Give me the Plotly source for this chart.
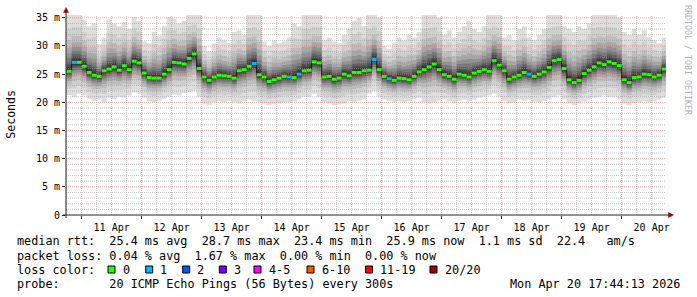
import datetime as dt
import plotly.graph_objects as go

# ---------------- data ----------------
range_start = dt.datetime(2026, 4, 10, 17, 44, 13)
range_end = dt.datetime(2026, 4, 20, 17, 44, 13)
step_start = dt.datetime(2026, 4, 10, 18, 0, 0)
step_hours = 2

median_ms = [
    25.5, 27.1, 27.1, 26.4, 25.3, 24.8, 24.6, 25.6, 25.9, 26.3, 25.7, 26.5, 25.8, 27.3, 27.0,
    25.2, 24.4, 24.3, 24.3, 25.0, 25.8, 27.1, 27.0, 26.8, 27.8, 28.6, 26.0, 24.5, 23.9, 24.5,
    24.8, 24.7, 24.6, 24.3, 25.6, 25.8, 26.4, 26.9, 24.9, 24.5, 23.7, 24.0, 24.3, 24.6, 24.5,
    24.4, 25.0, 25.6, 25.7, 27.2, 27.0, 24.5, 24.6, 24.1, 24.3, 25.0, 24.7, 25.3, 25.3, 25.6,
    25.7, 27.6, 25.8, 24.6, 24.2, 23.9, 24.3, 24.2, 24.0, 24.6, 25.4, 25.8, 26.3, 26.8, 25.8,
    24.9, 24.6, 24.1, 25.0, 24.8, 24.5, 25.2, 25.5, 25.8, 25.5, 27.4, 26.6, 25.6, 24.1, 24.5,
    24.8, 25.3, 25.0, 24.6, 25.0, 25.4, 26.2, 27.4, 27.6, 26.0, 24.0, 23.5, 23.9, 25.1, 25.7,
    26.3, 27.0, 26.7, 27.2, 26.9, 26.5, 24.0, 23.5, 24.4, 24.5, 25.0, 24.9, 24.5, 24.8, 25.9,
]
top_ms = [
    35.6, 35.6, 35.6, 34.7, 33.5, 34.0, 30.3, 31.5, 34.7, 34.0, 33.5, 34.2, 33.0, 35.2, 34.5,
    30.8, 30.5, 32.5, 31.8, 33.5, 35.2, 34.8, 34.0, 34.5, 35.6, 35.6, 35.6, 30.0, 29.0, 30.5,
    31.5, 31.0, 30.5, 32.5, 32.8, 32.0, 35.6, 35.6, 35.6, 30.8, 30.0, 31.0, 30.5, 30.8, 31.5,
    34.0, 33.5, 35.6, 35.6, 35.6, 35.6, 31.0, 31.5, 30.8, 30.5, 32.0, 33.0, 34.5, 35.0, 33.5,
    35.6, 35.6, 35.0, 30.0, 29.5, 30.5, 31.5, 31.0, 32.0, 31.5, 32.5, 35.6, 35.6, 35.6, 35.0,
    32.0, 32.8, 31.5, 32.5, 33.5, 34.5, 33.0, 32.5, 33.5, 35.6, 35.6, 35.6, 31.5, 32.0, 31.0,
    33.0, 33.5, 31.5, 31.0, 32.0, 33.0, 35.6, 35.6, 35.6, 33.5, 33.0, 32.5, 33.5, 33.0, 34.0,
    35.6, 35.6, 35.6, 35.6, 35.6, 35.0, 32.5, 32.0, 33.0, 32.0, 32.8, 31.5, 31.0, 30.5, 31.5,
]
bottom_ms = [
    21.3, 21.0, 21.5, 21.2, 20.6, 20.3, 20.5, 20.0, 20.8, 20.6, 21.0, 20.8, 21.2, 21.8, 21.5,
    20.8, 20.2, 20.0, 20.3, 20.6, 21.0, 21.4, 21.2, 21.6, 21.8, 22.0, 21.0, 19.8, 19.5, 20.0,
    20.2, 20.0, 20.3, 20.0, 19.8, 20.2, 20.5, 20.3, 20.0, 19.8, 19.5, 19.7, 19.8, 20.0, 20.0,
    20.2, 20.5, 21.0, 21.0, 21.5, 21.0, 20.0, 19.8, 19.5, 19.6, 19.8, 20.2, 20.0, 20.3, 20.5,
    21.5, 22.0, 21.0, 20.5, 20.3, 20.0, 20.2, 20.0, 20.2, 20.5, 20.8, 20.0, 19.8, 20.0, 20.3,
    20.5, 20.2, 19.8, 20.3, 20.5, 20.2, 20.5, 20.8, 21.0, 21.2, 21.5, 21.0, 20.3, 19.8, 20.0,
    20.5, 20.3, 20.5, 20.2, 20.0, 20.3, 20.5, 21.0, 21.2, 20.5, 19.8, 19.5, 19.8, 20.2, 20.5,
    20.8, 21.0, 21.2, 21.0, 21.0, 20.5, 19.8, 19.5, 19.8, 20.0, 20.2, 20.0, 20.2, 20.5, 20.8,
]
loss1_steps = [1, 37, 44, 46, 61, 64, 92]   # steps with 1/20 pings lost

y_tick_vals = [0, 5, 10, 15, 20, 25, 30, 35]
y_tick_text = ["0", "5 m", "10 m", "15 m", "20 m", "25 m", "30 m", "35 m"]
x_tick_days = [dt.datetime(2026, 4, d) for d in range(11, 21)]
x_tick_text = ["11 Apr", "12 Apr", "13 Apr", "14 Apr", "15 Apr",
               "16 Apr", "17 Apr", "18 Apr", "19 Apr", "20 Apr"]

loss_labels = ["0", "1", "2", "3", "4-5", "6-10", "11-19", "20/20"]
loss_colors = ["#26ff00", "#00b8ff", "#0059ff", "#7e00ff", "#ff00ff", "#ff5500", "#ff0000", "#a10000"]

legend_rtt = "median rtt:  25.4 ms avg  28.7 ms max  23.4 ms min  25.9 ms now  1.1 ms sd  22.4   am/s"
legend_loss = "packet loss: 0.04 % avg  1.67 % max  0.00 % min  0.00 % now"
legend_probe = "probe:       20 ICMP Echo Pings (56 Bytes) every 300s"
legend_date = "Mon Apr 20 17:44:13 2026"

Y_MAX = 35.5
MONO = "DejaVu Sans Mono"
LEG = 11.8

# ---------------- helpers ----------------
n = len(median_ms)
times = [step_start + dt.timedelta(hours=step_hours * i) for i in range(n + 1)]


def px_x(px):
    return (px - 66) / 600.0


def px_y(py):
    return (215 - py) / 200.0


fig = go.Figure()

# ---------------- smoke (gradient from outer light to inner dark) ----------------
shade_fracs = [1.0, 0.74, 0.55, 0.42, 0.32, 0.24, 0.17, 0.12, 0.075, 0.04]
shade_colors = ["#dedede", "#cfcfcf", "#bdbdbd", "#a8a8a8", "#919191",
                "#797979", "#626262", "#4d4d4d", "#3a3a3a", "#2a2a2a"]
for f, col in zip(shade_fracs, shade_colors):
    lo = [m - f * (m - b) for m, b in zip(median_ms, bottom_ms)]
    hi = [m + f * (t - m) for m, t in zip(median_ms, top_ms)]
    lo.append(lo[-1])
    hi.append(hi[-1])
    fig.add_trace(go.Scatter(x=times, y=lo, mode="lines", line=dict(width=0, shape="hv"),
                             hoverinfo="skip", showlegend=False))
    fig.add_trace(go.Scatter(x=times, y=hi, mode="lines", line=dict(width=0, shape="hv"),
                             fill="tonexty", fillcolor=col, hoverinfo="skip", showlegend=False))

# ---------------- grid (drawn above smoke like rrdtool) ----------------
def hlines(vals):
    xs, ys = [], []
    for v in vals:
        xs += [range_start, range_end, None]
        ys += [v, v, None]
    return xs, ys


def vlines(ts):
    xs, ys = [], []
    for t in ts:
        xs += [t, t, None]
        ys += [0, Y_MAX, None]
    return xs, ys


minor_h = [v for v in range(1, 36) if v % 5 != 0]
major_h = [v for v in range(5, 36, 5)]
six_hours = []
t = dt.datetime(2026, 4, 10, 18)
while t < range_end:
    six_hours.append(t)
    t += dt.timedelta(hours=6)
minor_v = [t for t in six_hours if t.hour != 0]
major_v = [t for t in six_hours if t.hour == 0]

for (xs, ys), colr in [(hlines(minor_h), "rgba(150,150,150,0.55)"),
                       (vlines(minor_v), "rgba(150,150,150,0.55)"),
                       (hlines(major_h), "rgba(235,110,110,0.6)"),
                       (vlines(major_v), "rgba(235,110,110,0.6)")]:
    fig.add_trace(go.Scatter(x=xs, y=ys, mode="lines",
                             line=dict(color=colr, width=1, dash="1px,1px"),
                             hoverinfo="skip", showlegend=False))

# ---------------- median ----------------
med_ext = median_ms + [median_ms[-1]]
fig.add_trace(go.Scatter(x=times, y=med_ext, mode="lines",
                         line=dict(color="#1a1a1a", width=1, shape="hv"),
                         hoverinfo="skip", showlegend=False))

for lvl_idx, steps in [(0, [i for i in range(n) if i not in loss1_steps]), (1, loss1_steps)]:
    xs, ys = [], []
    for i in steps:
        xs += [times[i], times[i + 1], None]
        ys += [median_ms[i], median_ms[i], None]
    fig.add_trace(go.Scatter(x=xs, y=ys, mode="lines",
                             line=dict(color=loss_colors[lvl_idx], width=3),
                             hoverinfo="skip", showlegend=False))

# ---------------- axes ----------------
fig.update_layout(
    width=697, height=297,
    margin=dict(l=66, r=31, t=15, b=82),
    paper_bgcolor="white", plot_bgcolor="white",
    showlegend=False,
    font=dict(family=MONO, size=10, color="black"),
    xaxis=dict(type="date", range=[range_start, range_end], tickmode="array",
               tickvals=x_tick_days, ticktext=x_tick_text, ticks="outside", ticklen=3,
               tickcolor="#222", ticklabelshift=30, showgrid=False, zeroline=False,
               showline=False, tickfont=dict(family=MONO, size=10, color="black")),
    yaxis=dict(range=[0, Y_MAX], tickmode="array", tickvals=y_tick_vals, ticktext=y_tick_text,
               ticks="outside", ticklen=3, tickcolor="#222", showgrid=False, zeroline=False,
               showline=False, tickfont=dict(family=MONO, size=10, color="black")),
)

shapes = []
shapes.append(dict(type="line", xref="paper", yref="paper", x0=px_x(63), x1=px_x(670),
                   y0=0, y1=0, line=dict(color="#222", width=1), layer="above"))
shapes.append(dict(type="line", xref="paper", yref="paper", x0=0, x1=0,
                   y0=px_y(218), y1=px_y(11), line=dict(color="#222", width=1), layer="above"))
shapes.append(dict(type="path", xref="paper", yref="paper",
                   path=f"M {px_x(668.5)},{px_y(212.5)} L {px_x(673.5)},{px_y(215)} L {px_x(668.5)},{px_y(217.5)} Z",
                   fillcolor="#a00000", line=dict(color="#a00000", width=0.5), layer="above"))
shapes.append(dict(type="path", xref="paper", yref="paper",
                   path=f"M {px_x(63.5)},{px_y(12.5)} L {px_x(66)},{px_y(7.5)} L {px_x(68.5)},{px_y(12.5)} Z",
                   fillcolor="#a00000", line=dict(color="#a00000", width=0.5), layer="above"))

annotations = []


def txt(px, py, s, anchor="left", size=LEG, color="black", angle=0):
    annotations.append(dict(xref="paper", yref="paper", x=px_x(px), y=px_y(py),
                            text=s.replace(" ", "\u00a0"), showarrow=False,
                            xanchor=anchor, yanchor="middle", textangle=angle,
                            font=dict(family=MONO, size=size, color=color), borderpad=0))


box_px = [108, 145.7, 182.7, 219.3, 254, 307, 365.5, 430]
for bx, lab, col in zip(box_px, loss_labels, loss_colors):
    shapes.append(dict(type="rect", xref="paper", yref="paper", x0=px_x(bx), x1=px_x(bx + 7),
                       y0=px_y(273), y1=px_y(266), fillcolor=col,
                       line=dict(color="black", width=1), layer="above"))
    txt(bx + 13.5, 270, lab)

fig.update_layout(shapes=shapes)

txt(16, 241, legend_rtt)
txt(16, 255.7, legend_loss)
txt(16, 270, "loss color:")
txt(16, 284.3, legend_probe)
txt(680.5, 284.3, legend_date, anchor="right")

txt(10.8, 114, "Seconds", anchor="center", size=11.6, angle=-90)
txt(688, 60, "RRDTOOL / TOBI OETIKER", anchor="center", size=8.3, color="#b0b0b0", angle=90)

fig.update_layout(annotations=annotations)

fig.write_html("out.html")
